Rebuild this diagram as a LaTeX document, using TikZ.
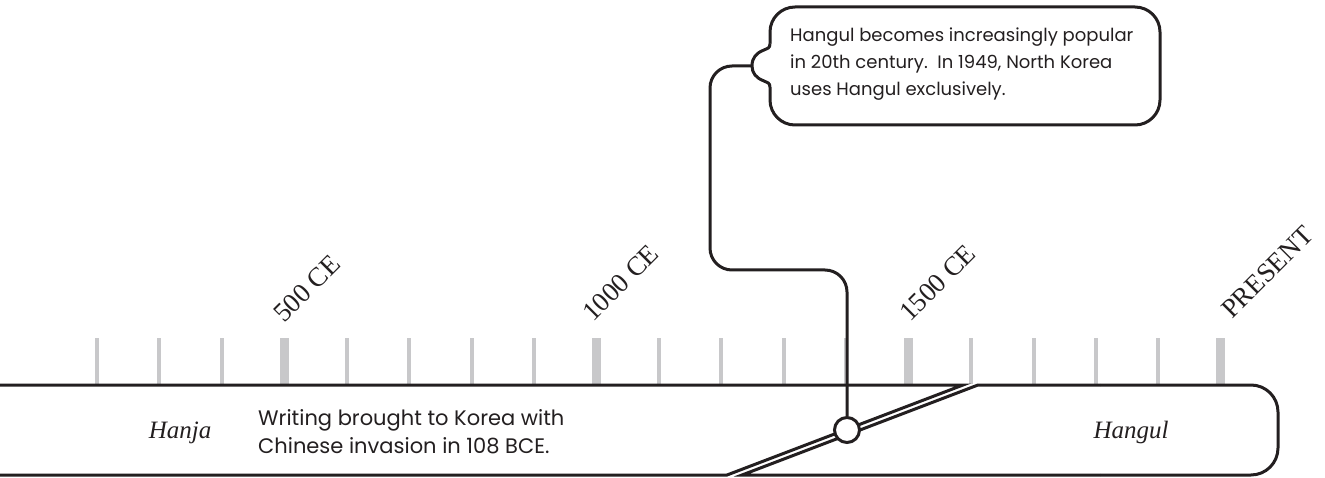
\documentclass[tikz,border=0pt]{standalone}
\usepackage{fontspec}
\setmainfont{Liberation Serif}
\newfontfamily\sansf{Poppins}
\definecolor{ink}{HTML}{231F20}
\definecolor{tickgray}{HTML}{C8C8CA}
\begin{document}
\begin{tikzpicture}[x=1pt,y=-1pt,
  line/.style={draw=ink, line width=3pt},
  minortick/.style={draw=tickgray, line width=4pt},
  majortick/.style={draw=tickgray, line width=9pt},
  datelabel/.style={font=\fontsize{27}{27}\selectfont, text=ink, rotate=45, anchor=base west, inner sep=0pt},
  eralabel/.style={font=\fontsize{25}{25}\selectfont\itshape, text=ink, anchor=base, inner sep=0pt},
  note/.style={font=\sansf\fontsize{18}{27}\selectfont, align=left, text=ink, anchor=base west, inner sep=0pt}
]
\useasboundingbox (0,0) rectangle (1325,478);

% ticks
\foreach \k in {0,1,2,4,5,6,7,9,10,11,12,14,15,16,17} {
  \draw[minortick] ({97+\k*62.44},338) -- ({97+\k*62.44},384);
}
\foreach \k in {3,8,13,18} {
  \draw[majortick] ({97+\k*62.44},338) -- ({97+\k*62.44},384);
}

% date labels
\node[datelabel] (d500) at (284,324) {500\hspace{0.25em}CE};
\node[datelabel] (d1000) at (593,323) {1000\hspace{0.25em}CE};
\node[datelabel] (d1500) at (910,323) {1500\hspace{0.25em}CE};
\node[datelabel] (dpres) at (1232,320) {PRESENT};

% band: left piece
\fill[white] (0,385) -- (963,385) -- (727,475) -- (0,475) -- cycle;
\draw[line] (0,385) -- (963,385) -- (727,475) -- (0,475);
% band: right piece
\fill[white] (978,385) -- (1250,385) -- (1278,410) -- (1278,450) -- (1250,475) -- (742,475) -- cycle;
\draw[line, rounded corners=27pt] (1100,385) -- (1278,385) -- (1278,475) -- (1100,475);
\draw[line] (1100,385) -- (978,385) -- (742,475) -- (1100,475);

% era labels and band text
\node[eralabel] (hanja) at (180,438) {Hanja};
\node[eralabel] (hangul) at (1131,438) {Hangul};
\node[note, font=\sansf\fontsize{21}{28}\selectfont] (writing) at (258,453) {Writing brought to Korea with\\Chinese invasion in 108 BCE.};

% callout
\node[line, fill=white, rounded corners=25pt, minimum width=390pt, minimum height=118pt, inner sep=0pt] (callout) at (965,66) {};
\fill[white] (773,44) -- (770,44) .. controls (770,48) and (767,49) .. (764,50)
  .. controls (756,53) and (752,58) .. (752,66)
  .. controls (752,73) and (756,78) .. (764,81)
  .. controls (767,82) and (770,83) .. (770,87) -- (773,87) -- cycle;
\draw[line] (770,44) .. controls (770,48) and (767,49) .. (764,50)
  .. controls (756,53) and (752,58) .. (752,66)
  .. controls (752,73) and (756,78) .. (764,81)
  .. controls (767,82) and (770,83) .. (770,87);
\node[note] (notetext) at (790,96) {Hangul becomes increasingly popular\\in 20th century.\ \ In 1949, North Korea\\uses Hangul exclusively.};
\coordinate (bt) at (752,66);

% marker and connector
\node[circle, line, fill=white, minimum size=25pt, inner sep=0pt] (c) at (847,430) {};
\draw[line, rounded corners=22pt] (c.north) -- (847,270) -- (710,270) -- (710,66) -- (bt);
\end{tikzpicture}
\end{document}
